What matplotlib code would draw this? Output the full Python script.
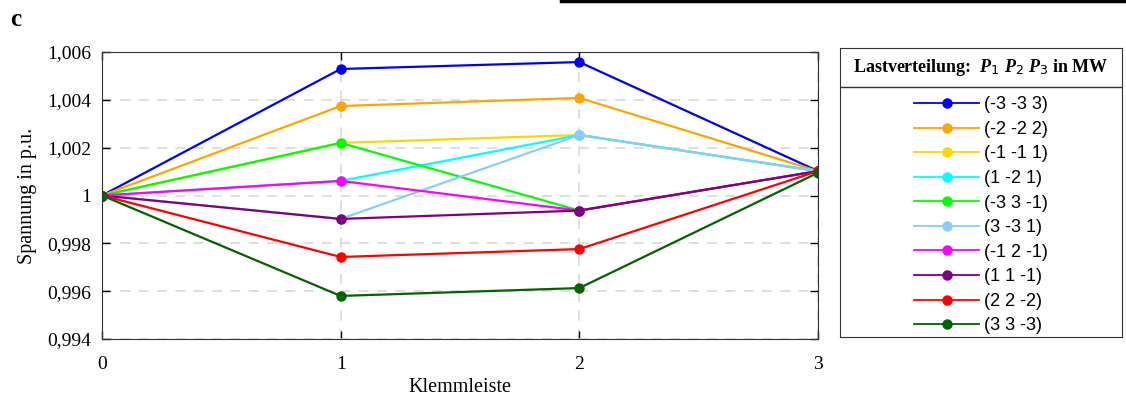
import numpy as np
import matplotlib.pyplot as plt
from matplotlib.lines import Line2D
from matplotlib.ticker import FuncFormatter

klemme = [0, 1, 2, 3]
labels = ["(-3 -3 3)", "(-2 -2 2)", "(-1 -1 1)", "(1 -2 1)", "(-3 3 -1)",
          "(3 -3 1)", "(-1 2 -1)", "(1 1 -1)", "(2 2 -2)", "(3 3 -3)"]
farben = ["#0000ff", "#ffa500", "#ffd700", "#00ffff", "#00ff00",
          "#87cefa", "#ff00ff", "#800080", "#ff0000", "#006400"]
u_p33 = [1.0, 1.00529, 1.00558, 1.00102]
u_p22 = [1.0, 1.00374, 1.00408, 1.00102]
u_p11 = [1.0, 1.00220, 1.00253, 1.00102]
u_121 = [1.0, 1.00061, 1.00253, 1.00102]
u_331 = [1.0, 1.00220, 0.99937, 1.00102]
u_3m31 = [1.0, 0.99902, 1.00253, 1.00102]
u_121m = [1.0, 1.00061, 0.99937, 1.00102]
u_111 = [1.0, 0.99902, 0.99937, 1.00102]
u_222 = [1.0, 0.99743, 0.99776, 1.00102]
u_333 = [1.0, 0.99580, 0.99613, 1.00095]
serien = [u_p33, u_p22, u_p11, u_121, u_331, u_3m31, u_121m, u_111, u_222, u_333]

serif = ["Liberation Serif", "DejaVu Serif"]
plt.rcParams["mathtext.fontset"] = "custom"
plt.rcParams["mathtext.it"] = "Liberation Serif:bold:italic"

fig = plt.figure(figsize=(11.26, 4.01), dpi=100)
ax = fig.add_axes([102/1126, 1-339/401, (818-102)/1126, (339-52)/401])

handles = []
for s, c, l in zip(serien, farben, labels):
    h, = ax.plot(klemme, s, "-o", color=c, lw=1.6, ms=6.5, label=l)
    handles.append(h)

ax.set_xlim(0, 3)
ax.set_ylim(0.994, 1.006)
ax.set_xticks([0, 1, 2, 3])
ax.set_yticks(np.arange(0.994, 1.0061, 0.002))
fmt = lambda v, p: ("%.3f" % v).rstrip("0").rstrip(".").replace(".", ",")
ax.yaxis.set_major_formatter(FuncFormatter(fmt))
ax.grid(True, ls=(0, (6, 5)), color="#d9d9d9", lw=1.2)
ax.tick_params(direction="in", length=6, top=True, right=True, labelsize=14, width=1)
ax.tick_params(axis="y", pad=8)
ax.tick_params(axis="x", pad=12)
for t in ax.get_xticklabels() + ax.get_yticklabels():
    t.set_family(serif)
for sp in ax.spines.values():
    sp.set_color("#333333")
ax.set_xlabel("Klemmleiste", fontsize=14.5, family=serif, labelpad=4)
ax.set_ylabel("Spannung in p.u.", fontsize=14.5, family=serif, labelpad=7)

# legend box
lax = fig.add_axes([840/1126, 1-337/401, (1122-840)/1126, (337-48)/401])
lax.set_xticks([])
lax.set_yticks([])
for sp in lax.spines.values():
    sp.set_color("#333333")
lax.axhline(1-(87-48)/(337-48), color="#333333", lw=1)
lax.text(0.5, 1-(68-48)/(337-48),
         "Lastverteilung:  $\\mathit{P_1\\ P_2\\ P_3}$ in MW",
         ha="center", va="center", fontsize=13, weight="bold", family=serif,
         transform=lax.transAxes)
leg = lax.legend(handles=handles, loc="upper center", bbox_to_anchor=(0.5, 1-(80-48)/(337-48)),
                 frameon=False, prop={"family": "Liberation Sans", "size": 13},
                 handlelength=3.6, labelspacing=0.42, handletextpad=0.25)
for lh in leg.legend_handles:
    lh.set_linewidth(1.3)
    lh.set_markersize(6.5)

fig.text(10/1126, 1-20/401, "c", fontsize=18, weight="bold", family=serif, va="center")
fig.add_artist(Line2D([561/1126, 1], [1-1/401, 1-1/401], color="black", lw=2.5))

fig.savefig("out.png", dpi=100)
